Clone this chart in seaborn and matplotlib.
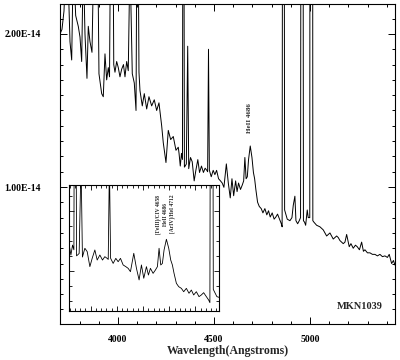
import matplotlib
matplotlib.use('Agg')
import matplotlib.pyplot as plt
import seaborn as sns
import numpy as np
import pandas as pd
from matplotlib.ticker import MultipleLocator, FixedLocator, FuncFormatter, NullFormatter

# spectrum: wavelength in Angstroms, flux in units of 1e-14
wavelength = [
    3698.0, 3708.3, 3718.8, 3732.8, 3739.6, 3750.0, 3758.9, 3767.2, 3779.7, 3793.2,
    3802.1, 3810.9, 3819.3, 3828.1, 3838.5, 3845.3, 3854.2, 3864.6, 3875.0, 3885.6,
    3894.3, 3901.0, 3915.1, 3923.4, 3932.3, 3941.1, 3949.5, 3956.0, 3968.5, 3978.0,
    3984.4, 3993.2, 4001.6, 4010.4, 4019.3, 4028.6, 4036.5, 4045.3, 4053.6, 4062.5,
    4074.5, 4084.9, 4094.0, 4101.5, 4109.4, 4114.6, 4126.6, 4137.0, 4149.5, 4161.4,
    4175.5, 4189.0, 4201.5, 4213.5, 4227.6, 4235.9, 4250.0, 4262.0, 4274.5, 4288.0,
    4302.1, 4314.0, 4318.1, 4324.5, 4330.8, 4335.9, 4340.5, 4346.0, 4349.9, 4356.0,
    4363.2, 4368.5, 4377.8, 4386.7, 4396.9, 4405.7, 4415.9, 4424.8, 4435.0, 4445.1,
    4454.0, 4462.9, 4467.0, 4471.5, 4476.0, 4485.8, 4495.9, 4504.8, 4513.7, 4523.9,
    4534.0, 4542.9, 4551.8, 4564.5, 4574.7, 4584.8, 4593.7, 4602.6, 4612.8, 4620.4,
    4628.0, 4638.2, 4647.1, 4654.7, 4661.0, 4667.4, 4673.7, 4680.1, 4689.0, 4697.9,
    4705.5, 4711.8, 4718.2, 4727.1, 4736.0, 4746.1, 4755.0, 4765.2, 4775.3, 4784.2,
    4793.1, 4803.3, 4813.4, 4822.3, 4831.2, 4841.4, 4850.2, 4855.0, 4861.5, 4868.0,
    4875.0, 4881.7, 4895.8, 4906.2, 4913.0, 4921.5, 4927.0, 4935.9, 4944.2, 4951.0,
    4959.0, 4966.0, 4972.0, 4977.6, 4985.9, 4991.0, 4999.0, 5007.0, 5015.0, 5020.8,
    5034.8, 5052.0, 5069.2, 5086.9, 5104.1, 5121.3, 5139.0, 5147.4, 5156.2, 5173.4,
    5182.3, 5191.1, 5204.6, 5213.5, 5225.4, 5236.9, 5246.3, 5257.7, 5269.2, 5278.5,
    5286.4, 5299.4, 5312.4, 5325.4, 5338.4, 5351.5, 5364.5, 5377.5, 5390.5, 5403.5,
    5412.9, 5425.4, 5434.8, 5442.6,
]
flux = [
    2.00, 2.03, 2.15, 2.60, 2.40, 1.95, 1.83, 2.50, 2.12, 2.05,
    1.98, 1.82, 2.50, 2.00, 1.71, 2.05, 1.95, 1.88, 2.60, 3.00,
    2.60, 1.74, 1.61, 1.59, 1.87, 1.70, 1.78, 1.72, 4.00, 1.80,
    1.75, 1.82, 1.78, 1.72, 1.77, 1.80, 1.72, 1.82, 1.76, 2.50,
    1.74, 1.68, 1.50, 3.50, 1.75, 1.63, 1.53, 1.61, 1.51, 1.59,
    1.53, 1.57, 1.50, 1.55, 1.40, 1.29, 1.16, 1.37, 1.31, 1.33,
    1.24, 1.26, 1.22, 1.137, 1.22, 1.18, 5.00, 1.13, 1.137, 1.15,
    1.92, 1.12, 1.193, 1.165, 1.040, 1.109, 1.179, 1.095, 1.137, 1.095,
    1.123, 1.109, 1.10, 1.90, 1.11, 1.067, 1.109, 1.081, 1.109, 1.054,
    1.040, 1.026, 0.998, 1.151, 1.026, 0.929, 1.054, 0.943, 1.040, 0.970,
    1.026, 0.984, 1.012, 1.040, 1.193, 1.054, 1.067, 1.179, 1.268, 1.193,
    1.095, 1.054, 0.984, 0.901, 0.873, 0.859, 0.831, 0.859, 0.818, 0.845,
    0.804, 0.831, 0.790, 0.804, 0.823, 0.790, 0.762, 0.740, 8.00, 0.85,
    0.82, 0.79, 0.78, 0.80, 0.88, 0.94, 0.78, 0.76, 0.78, 0.80,
    10.0, 0.78, 0.77, 0.75, 0.85, 0.80, 0.80, 20.0, 0.78, 0.77,
    0.75, 0.74, 0.72, 0.68, 0.70, 0.66, 0.68, 0.67, 0.65, 0.63,
    0.64, 0.69, 0.61, 0.63, 0.60, 0.62, 0.61, 0.59, 0.64, 0.58,
    0.59, 0.57, 0.57, 0.56, 0.56, 0.55, 0.56, 0.545, 0.55, 0.54,
    0.56, 0.50, 0.52, 0.49,
]

main_label = "HeII 4686"
main_label_wave = 4686
inset_labels = ["[FeIII]/CIV 4658", "HeII 4686", "[ArIV]/HeI 4712"]
inset_label_waves = [4658, 4686, 4712]
object_name = "MKN1039"

sns.set_style('ticks')
plt.rcParams['font.family'] = ['Liberation Serif', 'DejaVu Serif']
plt.rcParams['font.weight'] = 'bold'

df = pd.DataFrame({'wave': wavelength, 'flux': np.array(flux) * 1e-14})

fig = plt.figure(figsize=(4, 3.6), dpi=100)
ax = fig.add_axes([0.15, 0.1, 0.8375, 0.889])
sns.lineplot(data=df, x='wave', y='flux', ax=ax, color='black',
             linewidth=0.7, estimator=None, errorbar=None)
ax.set_xlim(3698, 5443)
ax.set_ylim(0.105e-14, 2.196e-14)

ax.xaxis.set_major_locator(FixedLocator([4000, 4500, 5000]))
ax.xaxis.set_minor_locator(MultipleLocator(100))
ax.yaxis.set_major_locator(FixedLocator([1e-14, 2e-14]))
ax.yaxis.set_minor_locator(MultipleLocator(1e-15))
ax.yaxis.set_major_formatter(FuncFormatter(lambda v, p: '%.2E' % v))
ax.tick_params(which='both', direction='in', top=True, right=True,
               width=0.7, colors='black', labelsize=7)
ax.tick_params(which='major', length=5)
ax.tick_params(which='minor', length=2.5)
ax.tick_params(axis='x', pad=8)
ax.tick_params(axis='y', pad=14)
for lab in ax.get_xticklabels() + ax.get_yticklabels():
    lab.set_fontweight('bold')
for s in ax.spines.values():
    s.set_linewidth(0.8)
    s.set_color('black')

ax.set_ylabel('')
ax.set_xlabel('Wavelength(Angstroms)', fontsize=8.5, fontweight='bold')
ax.xaxis.set_label_coords(0.5, -0.066)

ax.text(main_label_wave, 1.45e-14, main_label, rotation=90, ha='center',
        va='center', fontsize=5, fontweight='bold')
ax.text(0.896, 0.056, object_name, transform=ax.transAxes, ha='center',
        va='center', fontsize=7.5, fontweight='bold')

# zoom on the HeII region
axins = fig.add_axes([0.173, 0.136, 0.374, 0.35])
axins.set_facecolor('white')
sns.lineplot(data=df, x='wave', y='flux', ax=axins, color='black',
             linewidth=0.6, estimator=None, errorbar=None)
axins.set_xlim(4318, 4889)
axins.set_ylim(0.67e-14, 1.72e-14)
axins.xaxis.set_major_locator(MultipleLocator(100))
axins.xaxis.set_minor_locator(MultipleLocator(20))
axins.yaxis.set_major_locator(MultipleLocator(0.5e-14))
axins.yaxis.set_minor_locator(MultipleLocator(0.125e-14))
axins.xaxis.set_major_formatter(NullFormatter())
axins.yaxis.set_major_formatter(NullFormatter())
axins.tick_params(which='both', direction='in', top=True, right=True,
                  width=0.6, colors='black')
axins.tick_params(which='major', length=3.5)
axins.tick_params(which='minor', length=2)
axins.set_xlabel('')
axins.set_ylabel('')
for s in axins.spines.values():
    s.set_linewidth(0.8)
    s.set_color('black')
for w, t in zip(inset_label_waves, inset_labels):
    axins.text(w, 1.478e-14, t, rotation=90, ha='center', va='center',
               fontsize=4, fontweight='bold')

fig.savefig('out.png', dpi=100)
